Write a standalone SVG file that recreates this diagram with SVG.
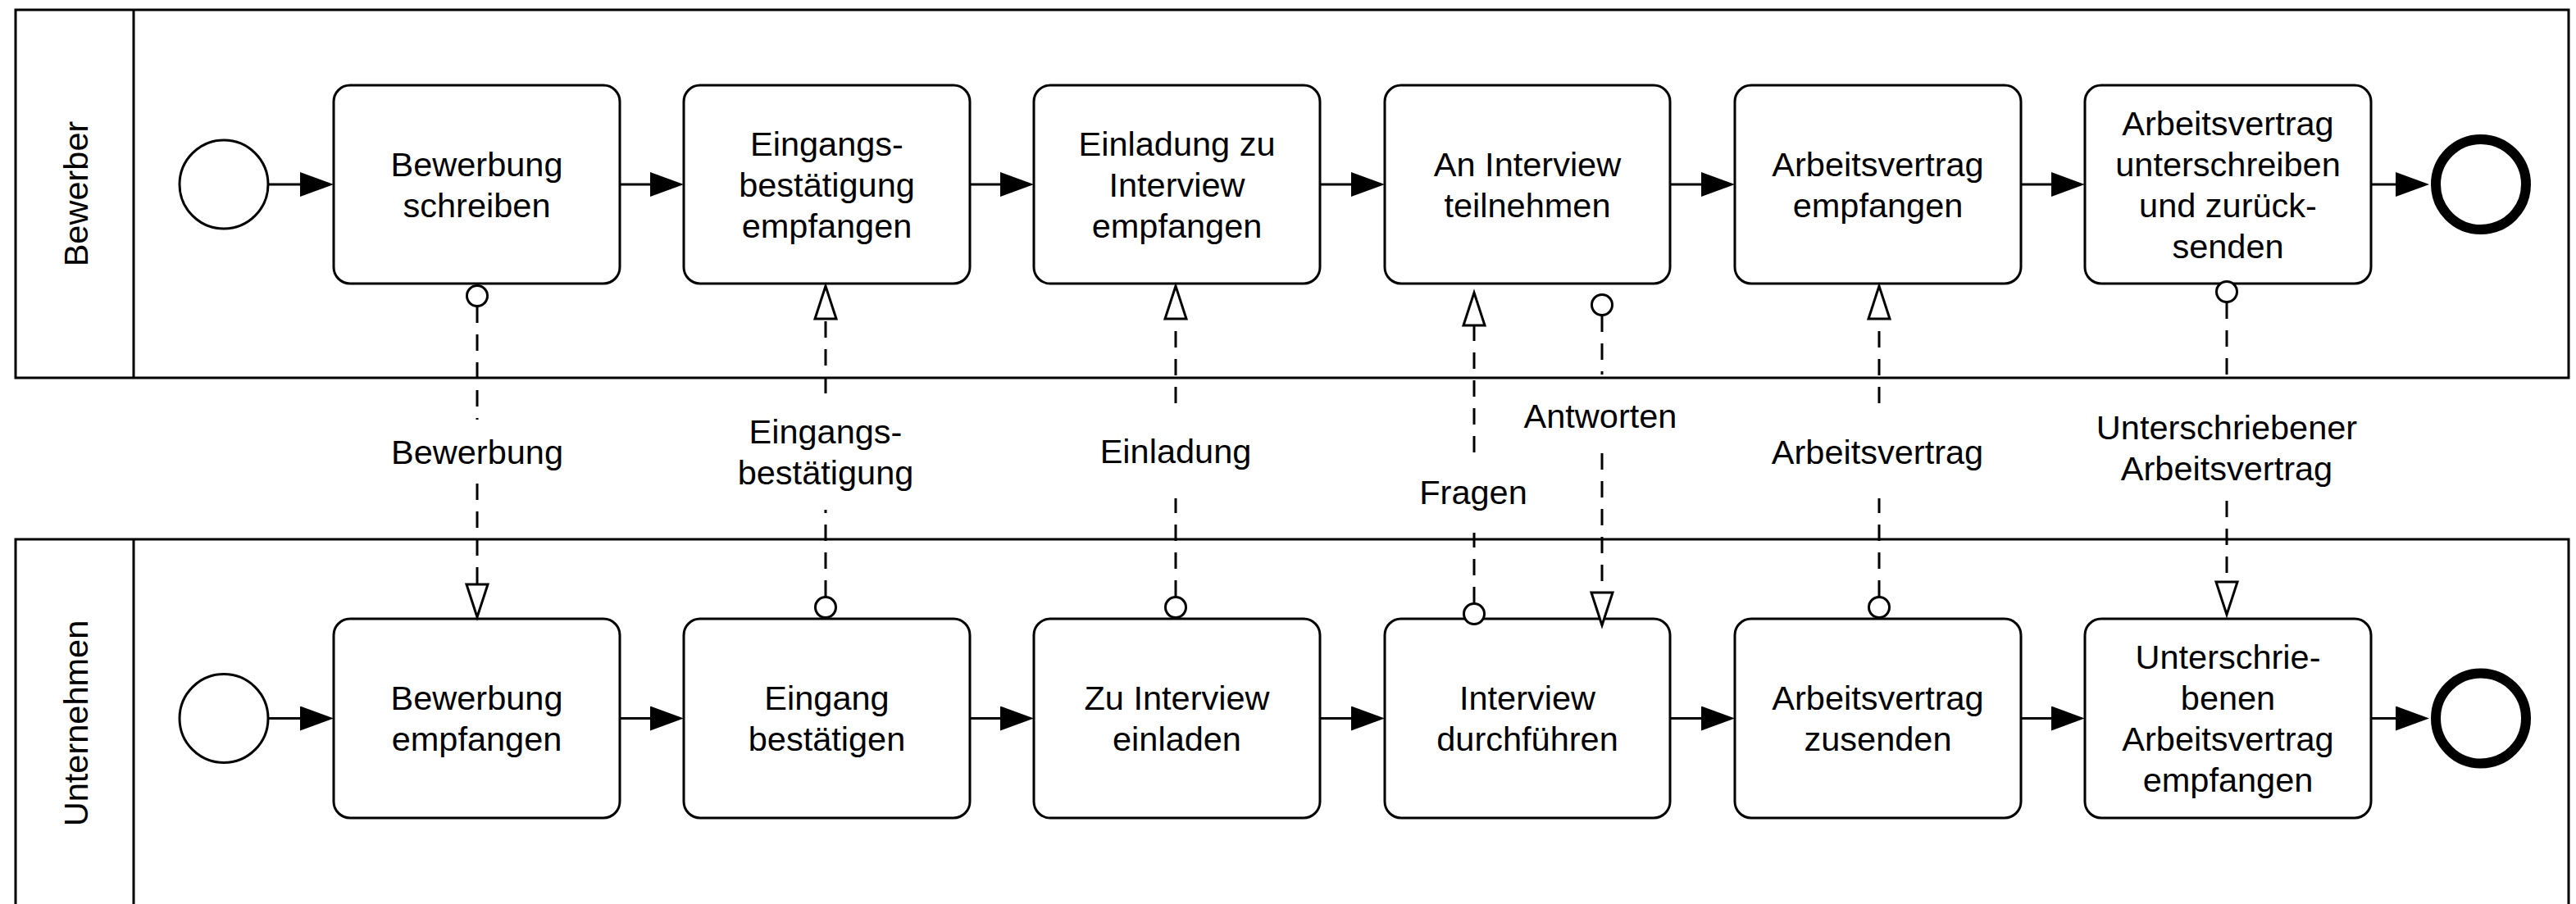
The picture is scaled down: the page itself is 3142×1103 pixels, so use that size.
<svg xmlns="http://www.w3.org/2000/svg" width="3142" height="1103" viewBox="0 0 3142 1103">
<style>
  .pool{fill:none;stroke:#000;stroke-width:3}
  .task{fill:#fff;stroke:#000;stroke-width:3}
  .start{fill:#fff;stroke:#000;stroke-width:3}
  .end{fill:#fff;stroke:#000;stroke-width:12}
  .lbl{font-family:"Liberation Sans",Arial,Helvetica,sans-serif;font-size:41.5px;fill:#000;text-anchor:middle}
  .seq{fill:none;stroke:#000;stroke-width:3}
  .msg{fill:none;stroke:#000;stroke-width:3;stroke-dasharray:20 14}
  .src{fill:#fff;stroke:#000;stroke-width:3}
</style>
<defs>
  <marker id="seqArrow" viewBox="0 0 41 30" refX="0" refY="15" markerWidth="41" markerHeight="30" markerUnits="userSpaceOnUse" orient="auto">
    <path d="M0,0 L41,15 L0,30 Z" fill="#000" stroke="none"/>
  </marker>
  <marker id="msgArrow" viewBox="-2 -16 44 32" refX="0" refY="0" markerWidth="44" markerHeight="32" markerUnits="userSpaceOnUse" orient="auto" overflow="visible">
    <path d="M0,-13 L40,0 L0,13 Z" fill="#fff" stroke="#000" stroke-width="3" stroke-dasharray="none" stroke-linejoin="miter"/>
  </marker>
</defs>
<rect x="0" y="0" width="3142" height="1103" fill="#fff"/>

<g id="pool-bewerber">
  <rect class="pool" x="19" y="12" width="3114" height="449"/>
  <line class="pool" x1="163" y1="12" x2="163" y2="461"/>
  <text class="lbl" transform="translate(107,236.5) rotate(-90)" x="0" y="0">Bewerber</text>
</g>
<g id="pool-unternehmen">
  <rect class="pool" x="19" y="658" width="3114" height="449"/>
  <line class="pool" x1="163" y1="658" x2="163" y2="1107"/>
  <text class="lbl" transform="translate(107,882.5) rotate(-90)" x="0" y="0">Unternehmen</text>
</g>

<!-- Bewerber lane nodes -->
<g id="b-start"><circle class="start" cx="273" cy="225" r="54"/></g>
<g id="b-task1">
  <rect class="task" x="407" y="104" width="349" height="242" rx="20"/>
  <text class="lbl"><tspan x="581.5" y="214.5">Bewerbung</tspan><tspan x="581.5" y="264.5">schreiben</tspan></text>
</g>
<g id="b-task2">
  <rect class="task" x="834" y="104" width="349" height="242" rx="20"/>
  <text class="lbl"><tspan x="1008.5" y="189.5">Eingangs-</tspan><tspan x="1008.5" y="239.5">bestätigung</tspan><tspan x="1008.5" y="289.5">empfangen</tspan></text>
</g>
<g id="b-task3">
  <rect class="task" x="1261" y="104" width="349" height="242" rx="20"/>
  <text class="lbl"><tspan x="1435.5" y="189.5">Einladung zu</tspan><tspan x="1435.5" y="239.5">Interview</tspan><tspan x="1435.5" y="289.5">empfangen</tspan></text>
</g>
<g id="b-task4">
  <rect class="task" x="1689" y="104" width="348" height="242" rx="20"/>
  <text class="lbl"><tspan x="1863" y="214.5">An Interview</tspan><tspan x="1863" y="264.5">teilnehmen</tspan></text>
</g>
<g id="b-task5">
  <rect class="task" x="2116" y="104" width="349" height="242" rx="20"/>
  <text class="lbl"><tspan x="2290.5" y="214.5">Arbeitsvertrag</tspan><tspan x="2290.5" y="264.5">empfangen</tspan></text>
</g>
<g id="b-task6">
  <rect class="task" x="2543" y="104" width="349" height="242" rx="20"/>
  <text class="lbl"><tspan x="2717.5" y="164.5">Arbeitsvertrag</tspan><tspan x="2717.5" y="214.5">unterschreiben</tspan><tspan x="2717.5" y="264.5">und zurück-</tspan><tspan x="2717.5" y="314.5">senden</tspan></text>
</g>
<g id="b-end"><circle class="end" cx="3026" cy="225" r="55"/></g>

<!-- Unternehmen lane nodes -->
<g id="u-start"><circle class="start" cx="273" cy="876.5" r="54"/></g>
<g id="u-task1">
  <rect class="task" x="407" y="755" width="349" height="243" rx="20"/>
  <text class="lbl"><tspan x="581.5" y="866">Bewerbung</tspan><tspan x="581.5" y="916">empfangen</tspan></text>
</g>
<g id="u-task2">
  <rect class="task" x="834" y="755" width="349" height="243" rx="20"/>
  <text class="lbl"><tspan x="1008.5" y="866">Eingang</tspan><tspan x="1008.5" y="916">bestätigen</tspan></text>
</g>
<g id="u-task3">
  <rect class="task" x="1261" y="755" width="349" height="243" rx="20"/>
  <text class="lbl"><tspan x="1435.5" y="866">Zu Interview</tspan><tspan x="1435.5" y="916">einladen</tspan></text>
</g>
<g id="u-task4">
  <rect class="task" x="1689" y="755" width="348" height="243" rx="20"/>
  <text class="lbl"><tspan x="1863" y="866">Interview</tspan><tspan x="1863" y="916">durchführen</tspan></text>
</g>
<g id="u-task5">
  <rect class="task" x="2116" y="755" width="349" height="243" rx="20"/>
  <text class="lbl"><tspan x="2290.5" y="866">Arbeitsvertrag</tspan><tspan x="2290.5" y="916">zusenden</tspan></text>
</g>
<g id="u-task6">
  <rect class="task" x="2543" y="755" width="349" height="243" rx="20"/>
  <text class="lbl"><tspan x="2717.5" y="816">Unterschrie-</tspan><tspan x="2717.5" y="866">benen</tspan><tspan x="2717.5" y="916">Arbeitsvertrag</tspan><tspan x="2717.5" y="966">empfangen</tspan></text>
</g>
<g id="u-end"><circle class="end" cx="3026" cy="876.5" r="55"/></g>

<g id="connectors">
  <!-- sequence flows, Bewerber -->
  <path class="seq" marker-end="url(#seqArrow)" d="M327,225 H366"/>
  <path class="seq" marker-end="url(#seqArrow)" d="M756,225 H793"/>
  <path class="seq" marker-end="url(#seqArrow)" d="M1183,225 H1220"/>
  <path class="seq" marker-end="url(#seqArrow)" d="M1610,225 H1648"/>
  <path class="seq" marker-end="url(#seqArrow)" d="M2037,225 H2075"/>
  <path class="seq" marker-end="url(#seqArrow)" d="M2465,225 H2502"/>
  <path class="seq" marker-end="url(#seqArrow)" d="M2892,225 H2922"/>
  <!-- sequence flows, Unternehmen -->
  <path class="seq" marker-end="url(#seqArrow)" d="M327,876.5 H366"/>
  <path class="seq" marker-end="url(#seqArrow)" d="M756,876.5 H793"/>
  <path class="seq" marker-end="url(#seqArrow)" d="M1183,876.5 H1220"/>
  <path class="seq" marker-end="url(#seqArrow)" d="M1610,876.5 H1648"/>
  <path class="seq" marker-end="url(#seqArrow)" d="M2037,876.5 H2075"/>
  <path class="seq" marker-end="url(#seqArrow)" d="M2465,876.5 H2502"/>
  <path class="seq" marker-end="url(#seqArrow)" d="M2892,876.5 H2922"/>

  <!-- message flows -->
  <g id="mf-bewerbung">
    <path class="msg" d="M582,374 V512"/>
    <path class="msg" marker-end="url(#msgArrow)" d="M582,590 V713"/>
    <circle class="src" cx="582" cy="361" r="12.5"/>
    <text class="lbl" x="582" y="566">Bewerbung</text>
  </g>
  <g id="mf-eingang">
    <path class="msg" d="M1007,728 V622"/>
    <path class="msg" marker-end="url(#msgArrow)" d="M1007,480 V389"/>
    <circle class="src" cx="1007" cy="741" r="12.5"/>
    <text class="lbl"><tspan x="1007" y="541">Eingangs-</tspan><tspan x="1007" y="591">bestätigung</tspan></text>
  </g>
  <g id="mf-einladung">
    <path class="msg" d="M1434,728 V608"/>
    <path class="msg" marker-end="url(#msgArrow)" d="M1434,492 V389"/>
    <circle class="src" cx="1434" cy="741" r="12.5"/>
    <text class="lbl" x="1434" y="565">Einladung</text>
  </g>
  <g id="mf-fragen">
    <path class="msg" d="M1798,736 V650"/>
    <path class="msg" marker-end="url(#msgArrow)" d="M1798,552 V397"/>
    <circle class="src" cx="1798" cy="749" r="12.5"/>
    <text class="lbl" x="1797" y="615">Fragen</text>
  </g>
  <g id="mf-antworten">
    <path class="msg" d="M1954,385 V457"/>
    <path class="msg" marker-end="url(#msgArrow)" d="M1954,553 V723"/>
    <circle class="src" cx="1954" cy="372" r="12.5"/>
    <text class="lbl" x="1952" y="522">Antworten</text>
  </g>
  <g id="mf-arbeitsvertrag">
    <path class="msg" d="M2292,728 V608"/>
    <path class="msg" marker-end="url(#msgArrow)" d="M2292,492 V389"/>
    <circle class="src" cx="2292" cy="741" r="12.5"/>
    <text class="lbl" x="2290" y="566">Arbeitsvertrag</text>
  </g>
  <g id="mf-unterschrieben">
    <path class="msg" d="M2716,369 V470"/>
    <path class="msg" marker-end="url(#msgArrow)" d="M2716,611 V710"/>
    <circle class="src" cx="2716" cy="356" r="12.5"/>
    <text class="lbl"><tspan x="2716" y="536">Unterschriebener</tspan><tspan x="2716" y="586">Arbeitsvertrag</tspan></text>
  </g>
</g>
</svg>
